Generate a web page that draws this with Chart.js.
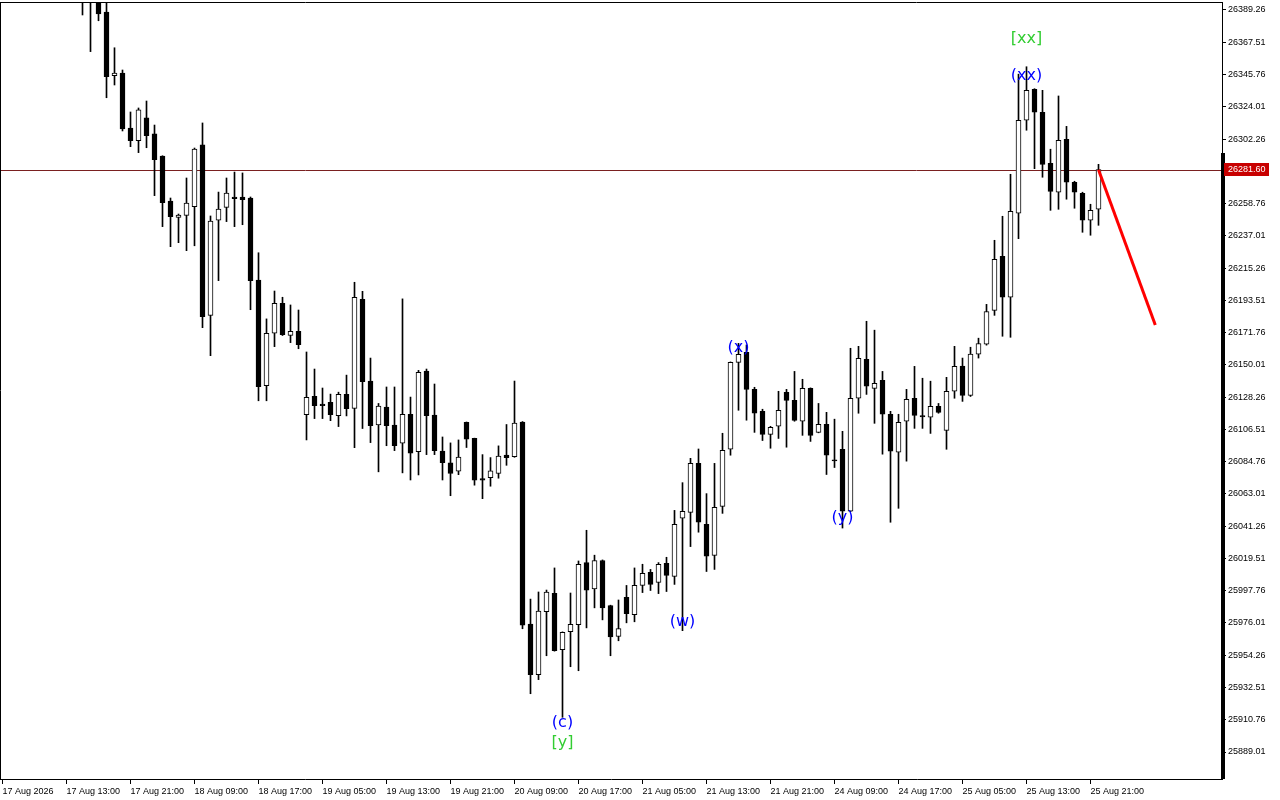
<!DOCTYPE html>
<html>
<head>
<meta charset="utf-8">
<script src="https://cdn.jsdelivr.net/npm/chart.js@4.4.0/dist/chart.umd.min.js"></script>
<style>
  html, body { margin: 0; padding: 0; background: #fff; }
  #wrap { width: 1280px; height: 800px; position: relative; }
</style>
</head>
<body>
<div id="wrap"><canvas id="chart"></canvas></div>
<script>
// Hourly candles, bar index 0..137 (first ten sit above the visible range)
const OPEN = [
  26452, 26446, 26438, 26444, 26433, 26424, 26430, 26420, 26412, 26418,
  26410, 26404, 26408, 26387.9, 26345.0, 26346.8, 26309.7, 26301.2, 26316.5, 26305.7,
  26290.8, 26260.5, 26249.5, 26250.8, 26256.6, 26298.3, 26183.4, 26247.5, 26256.2, 26263.2,
  26263.2, 26262.5, 26207.2, 26136.0, 26171.3, 26191.5, 26169.9, 26172.6, 26116.4, 26128.8,
  26123.6, 26124.8, 26115.7, 26130.1, 26120.7, 26194.2, 26139.1, 26109.6, 26121.6, 26109.5,
  26097.2, 26116.7, 26091.5, 26145.9, 26116.2, 26091.9, 26083.9, 26078.3, 26111.2, 26100.4,
  26073.4, 26073.9, 26076.8, 26089.2, 26088.1, 26111.5, 25975.3, 25941.1, 25983.6, 25996.0,
  25958.0, 25970.1, 25974.8, 26016.7, 25998.9, 26018.1, 25987.8, 25966.9, 25993.3, 25981.6,
  26001.3, 26010.1, 26003.3, 26016.2, 26007.4, 26046.6, 26050.6, 26083.6, 26042.5, 26021.6,
  26054.6, 26093.1, 26151.7, 26158.4, 26133.5, 26118.7, 26103.2, 26108.6, 26131.5, 26126.1,
  26112.0, 26134.2, 26104.5, 26109.9, 26085.8, 26093.1, 26051.3, 26127.5, 26153.8, 26134.2,
  26139.6, 26116.7, 26091.1, 26112.0, 26127.5, 26115.8, 26114.7, 26122.1, 26105.8, 26132.2,
  26149.2, 26129.4, 26157.2, 26164.0, 26186.8, 26223.2, 26195.6, 26252.2, 26314.9, 26335.8,
  26320.3, 26285.9, 26266.4, 26302.1, 26273.1, 26265.7, 26247.5, 26254.9
];
const HIGH = [
  26466, 26458, 26449, 26455, 26441, 26437, 26440, 26428, 26426, 26424,
  26419, 26415, 26412, 26397, 26363.8, 26348.8, 26320.5, 26323.2, 26327.9, 26311.7,
  26291.0, 26262.5, 26251.7, 26276.0, 26296.2, 26313.1, 26250.4, 26266.5, 26276.0, 26280.0,
  26279.4, 26263.2, 26225.6, 26181.0, 26199.8, 26195.6, 26190.4, 26187.0, 26158.7, 26147.2,
  26134.4, 26130.3, 26131.6, 26143.1, 26205.7, 26199.6, 26154.6, 26124.0, 26135.1, 26135.1,
  26194.5, 26128.3, 26146.3, 26147.2, 26137.1, 26101.4, 26097.4, 26099.4, 26111.5, 26100.6,
  26089.5, 26087.5, 26095.4, 26109.8, 26139.1, 26111.8, 25992.1, 25996.9, 25998.2, 26013.1,
  25970.0, 25996.2, 26017.8, 26038.5, 26021.7, 26018.5, 25988.0, 25991.5, 26001.3, 26013.1,
  26015.6, 26012.1, 26016.7, 26020.3, 26051.9, 26070.6, 26087.0, 26093.3, 26063.2, 26083.6,
  26103.9, 26152.0, 26164.5, 26163.4, 26134.9, 26120.1, 26108.6, 26132.2, 26133.5, 26145.6,
  26140.3, 26134.5, 26124.0, 26118.0, 26113.4, 26105.2, 26161.2, 26162.5, 26179.4, 26173.4,
  26145.6, 26118.7, 26116.7, 26133.5, 26149.0, 26141.0, 26139.0, 26124.0, 26141.6, 26162.5,
  26154.6, 26161.9, 26168.0, 26190.8, 26234.0, 26250.2, 26278.5, 26346.0, 26351.0, 26336.2,
  26335.1, 26295.4, 26331.3, 26310.8, 26273.8, 26266.4, 26258.3, 26285.2
];
const LOW = [
  26440, 26432, 26425, 26430, 26418, 26414, 26416, 26405, 26403, 26402,
  26385.9, 26361.2, 26382.0, 26330.1, 26338.7, 26307.7, 26297.1, 26293.1, 26296.4, 26264.1,
  26243.2, 26229.7, 26232.4, 26227.0, 26230.3, 26175.1, 26156.2, 26206.8, 26246.6, 26243.2,
  26244.5, 26187.2, 26125.8, 26125.8, 26162.3, 26169.8, 26165.0, 26160.9, 26099.4, 26113.8,
  26113.8, 26112.4, 26108.4, 26115.6, 26094.2, 26107.1, 26097.6, 26077.9, 26095.5, 26092.2,
  26077.2, 26072.4, 26075.8, 26089.5, 26089.5, 26072.4, 26061.8, 26076.0, 26094.3, 26068.9,
  26059.8, 26068.2, 26073.6, 26082.3, 26087.7, 25972.1, 25928.3, 25937.8, 25953.9, 25957.0,
  25912.4, 25946.5, 25943.8, 25972.7, 25986.2, 25978.1, 25953.9, 25964.0, 25976.1, 25976.8,
  25996.5, 25997.9, 25995.8, 25997.2, 26002.0, 25970.8, 26027.5, 26037.2, 26010.7, 26012.1,
  26049.9, 26089.1, 26119.4, 26112.7, 26104.5, 26099.0, 26093.8, 26100.4, 26094.5, 26112.0,
  26102.5, 26098.4, 26104.2, 26076.1, 26080.8, 26040.0, 26051.0, 26117.4, 26130.1, 26110.6,
  26089.8, 26043.9, 26053.3, 26085.1, 26107.2, 26107.2, 26103.8, 26117.4, 26093.1, 26127.5,
  26125.4, 26128.7, 26154.6, 26163.3, 26183.4, 26169.3, 26168.6, 26235.1, 26308.2, 26282.3,
  26276.5, 26254.2, 26254.9, 26261.7, 26255.6, 26239.4, 26237.4, 26244.1
];
const CLOSE = [
  26446, 26438, 26444, 26433, 26424, 26430, 26420, 26412, 26418, 26410,
  26404, 26408, 26386.6, 26344.3, 26346.8, 26309.0, 26301.2, 26321.9, 26304.5, 26288.3,
  26259.3, 26249.9, 26251.0, 26259.1, 26295.5, 26182.5, 26247.0, 26255.1, 26265.9, 26262.1,
  26261.4, 26206.8, 26135.3, 26171.3, 26191.5, 26170.4, 26172.6, 26163.6, 26128.2, 26122.5,
  26122.5, 26116.4, 26130.1, 26120.4, 26195.6, 26138.7, 26109.0, 26122.2, 26109.0, 26095.5,
  26116.7, 26090.4, 26145.0, 26115.7, 26092.2, 26084.1, 26076.8, 26087.8, 26099.9, 26072.3,
  26072.3, 26078.6, 26088.5, 26087.4, 26110.8, 25974.6, 25941.1, 25984.0, 25996.9, 25957.3,
  25969.7, 25975.1, 26015.6, 25998.2, 26018.1, 25986.2, 25966.6, 25972.3, 25982.2, 26001.3,
  26009.4, 26002.0, 26015.6, 26008.1, 26042.5, 26051.2, 26083.6, 26043.9, 26021.0, 26054.0,
  26092.4, 26151.7, 26157.1, 26133.5, 26117.4, 26103.2, 26107.9, 26119.4, 26126.1, 26112.6,
  26134.2, 26102.5, 26109.9, 26089.1, 26085.3, 26051.3, 26127.5, 26154.5, 26135.6, 26137.6,
  26116.7, 26091.8, 26111.3, 26126.8, 26116.0, 26115.0, 26122.1, 26118.0, 26132.2, 26149.0,
  26129.4, 26157.2, 26164.4, 26186.0, 26221.1, 26195.6, 26253.6, 26314.9, 26335.1, 26320.3,
  26285.2, 26267.0, 26301.4, 26273.1, 26266.4, 26247.5, 26254.2, 26281.6
];

const TIME_TICKS = [0, 8, 16, 24, 32, 40, 48, 56, 64, 72, 80, 88, 96, 104, 112, 120, 128, 136];
const TIME_LABELS = [
  '17 Aug 2026', '17 Aug 13:00', '17 Aug 21:00', '18 Aug 09:00', '18 Aug 17:00',
  '19 Aug 05:00', '19 Aug 13:00', '19 Aug 21:00', '20 Aug 09:00', '20 Aug 17:00',
  '21 Aug 05:00', '21 Aug 13:00', '21 Aug 21:00', '24 Aug 09:00', '24 Aug 17:00',
  '25 Aug 05:00', '25 Aug 13:00', '25 Aug 21:00'
];
const PRICE_TICKS = [
  25889.01, 25910.76, 25932.51, 25954.26, 25976.01, 25997.76, 26019.51, 26041.26,
  26063.01, 26084.76, 26106.51, 26128.26, 26150.01, 26171.76, 26193.51, 26215.26,
  26237.01, 26258.76, 26280.51, 26302.26, 26324.01, 26345.76, 26367.51, 26389.26
];
const LAST_PRICE = 26281.60;

// wave marks: text, bar index, price
const WAVE_TEXT = ['(c)', '[y]', '(w)', '(x)', '(y)', '(xx)', '[xx]'];
const WAVE_BAR = [70, 70, 85, 92, 105, 128, 128];
const WAVE_PRICE = [25908.6, 25895.1, 25976.7, 26161.4, 26046.8, 26344.8, 26369.7];

// projected move
const PROJ_BAR = [137, 144.1];
const PROJ_PRICE = [26281.6, 26176.9];

const Y_MIN = 25870.81;
const Y_MAX = 26394.65;

// ---- plugins -------------------------------------------------------------

const framePlugin = {
    id: 'frame',
    beforeDatasetsDraw(chart) {
        const { ctx, chartArea: a, scales } = chart;
        const y = Math.round(scales.y.getPixelForValue(LAST_PRICE)) + 0.5;
        ctx.save();
        ctx.strokeStyle = '#7a2020';
        ctx.lineWidth = 1;
        ctx.beginPath();
        ctx.moveTo(a.left, y);
        ctx.lineTo(a.right, y);
        ctx.stroke();
        ctx.restore();
    },
    afterDatasetsDraw(chart) {
        const { ctx, scales } = chart;
        ctx.save();
        ctx.font = '16px "DejaVu Sans"';
        ctx.textAlign = 'center';
        ctx.textBaseline = 'middle';
        WAVE_TEXT.forEach((t, i) => {
            ctx.fillStyle = t[0] === '[' ? '#32cd32' : '#0000ff';
            ctx.fillText(t, scales.x.getPixelForValue(WAVE_BAR[i]), scales.y.getPixelForValue(WAVE_PRICE[i]));
        });
        ctx.restore();
    },
    afterDraw(chart) {
        const { ctx, chartArea: a, scales } = chart;
        ctx.save();
        ctx.strokeStyle = '#000';
        ctx.lineWidth = 1;
        ctx.beginPath();
        ctx.moveTo(0, a.top + 0.5);
        ctx.lineTo(a.right, a.top + 0.5);
        ctx.moveTo(0.5, a.top);
        ctx.lineTo(0.5, a.bottom);
        ctx.stroke();
        // heavier right edge below the price box
        ctx.fillStyle = '#000';
        ctx.fillRect(a.right - 1, 153, 4, a.bottom - 153);

        // last price box on the axis
        const y = scales.y.getPixelForValue(LAST_PRICE);
        ctx.fillStyle = '#c80000';
        ctx.fillRect(a.right + 2, Math.round(y) - 7, 45, 13);
        ctx.fillStyle = '#fff';
        ctx.font = '9px "Liberation Sans"';
        ctx.textAlign = 'left';
        ctx.textBaseline = 'middle';
        ctx.fillText(LAST_PRICE.toFixed(2), a.right + 6, Math.round(y) - 0.5);
        ctx.restore();
    },
};

// ---- chart ---------------------------------------------------------------

const idx = OPEN.map((_, i) => i);
const bodies = idx.map(i => ({ x: i, y: [OPEN[i], CLOSE[i]] }));
const wicks = idx.map(i => ({ x: i, y: [LOW[i], HIGH[i]] }));
const bodyFill = idx.map(i => (CLOSE[i] >= OPEN[i] ? '#ffffff' : '#000000'));

const axisFont = { family: 'Liberation Sans', size: 9 };

function noPadding(s) {
    s.paddingTop = 0;
    s.paddingBottom = 0;
    s.paddingLeft = 0;
    s.paddingRight = 0;
}

new Chart(document.getElementById('chart'), {
    type: 'bar',
    data: {
        datasets: [
            {
                type: 'line',
                data: PROJ_BAR.map((b, i) => ({ x: b, y: PROJ_PRICE[i] })),
                borderColor: '#ff0000',
                borderWidth: 3,
                pointRadius: 0,
                fill: false,
                order: 0,
            },
            {
                data: bodies,
                backgroundColor: bodyFill,
                borderColor: '#000',
                borderWidth: 1,
                borderSkipped: false,
                barThickness: 5,
                minBarLength: 1,
                grouped: false,
                clip: 0,
                order: 1,
            },
            {
                data: wicks,
                backgroundColor: '#000',
                borderWidth: 0,
                barThickness: 1,
                grouped: false,
                clip: 0,
                order: 2,
            },
        ],
    },
    options: {
        responsive: true,
        maintainAspectRatio: false,
        animation: false,
        devicePixelRatio: 1,
        events: [],
        layout: { autoPadding: false, padding: { top: 2, left: 0, right: 0, bottom: 0 } },
        plugins: { legend: { display: false }, tooltip: { enabled: false } },
        scales: {
            x: {
                type: 'linear',
                min: -0.3125,
                max: 152.4375,
                offset: false,
                afterBuildTicks: (s) => { s.ticks = TIME_TICKS.map(v => ({ value: v })); },
                afterFit: (s) => { s.height = 21; noPadding(s); },
                ticks: {
                    autoSkip: false,
                    maxRotation: 0,
                    align: 'start',
                    padding: 2,
                    color: '#000',
                    font: axisFont,
                    callback: (v) => {
                        const i = TIME_TICKS.indexOf(v);
                        return i >= 0 ? TIME_LABELS[i] : '';
                    },
                },
                grid: { offset: false, drawOnChartArea: false, drawTicks: true, tickLength: 5, color: '#000' },
                border: { display: true, color: '#000' },
            },
            y: {
                position: 'right',
                min: Y_MIN,
                max: Y_MAX,
                afterBuildTicks: (s) => { s.ticks = PRICE_TICKS.map(v => ({ value: v })); },
                afterFit: (s) => { s.width = 58; noPadding(s); },
                ticks: {
                    autoSkip: false,
                    padding: 2,
                    color: '#000',
                    font: axisFont,
                    callback: (v) => v.toFixed(2),
                },
                grid: { drawOnChartArea: false, drawTicks: true, tickLength: 4, color: '#000' },
                border: { display: true, color: '#000' },
            },
        },
    },
    plugins: [framePlugin],
});
</script>
</body>
</html>
